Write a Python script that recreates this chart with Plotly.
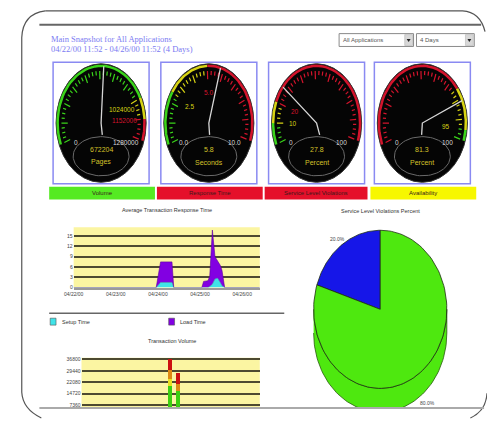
import numpy as np
import plotly.graph_objects as go

W, H = 487, 421
def PX(x): return x / W
def PY(y): return 1 - y / H

FONT = "Liberation Sans, Arial, sans-serif"

# ---------------- data ----------------
report_title = "Main Snapshot for All Applications"
report_period = "04/22/00 11:52 - 04/26/00 11:52 (4 Days)"
dropdown_labels = ["All Applications", "4 Days"]

gauge_names = ["Volume", "Response Time", "Service Level Violations", "Availability"]
gauge_values = [672204, 5.8, 27.8, 81.3]
gauge_value_labels = ["672204", "5.8", "27.8", "81.3"]
gauge_units = ["Pages", "Seconds", "Percent", "Percent"]
gauge_max = [1280000, 10.0, 100, 100]
gauge_min_labels = ["0", "0.0", "0", "0"]
gauge_max_labels = ["1280000", "10.0", "100", "100"]
gauge_zone_bounds = [[0, 1024000, 1152000, 1280000], [0, 2.5, 5.0, 10.0], [0, 10, 20, 100], [0, 75, 95, 100]]
gauge_zone_colors = [["g", "y", "r"], ["g", "y", "r"], ["g", "y", "r"], ["r", "y", "g"]]
gauge_mark_values = [[1024000, 1152000], [2.5, 5.0], [10, 20], [95]]
gauge_mark_labels = [["1024000", "1152000"], ["2.5", "5.0"], ["10", "20"], ["95"]]
gauge_mark_colors = [["y", "r"], ["y", "r"], ["y", "r"], ["y"]]
gauge_status = ["g", "r", "r", "y"]

resp_title = "Average Transaction Response Time"
resp_time = ["2000-04-22 00:00", "2000-04-23 23:00", "2000-04-24 01:30", "2000-04-24 08:00",
             "2000-04-24 09:00", "2000-04-25 01:00", "2000-04-25 02:00", "2000-04-25 04:30",
             "2000-04-25 05:30", "2000-04-25 07:00", "2000-04-25 08:30", "2000-04-25 10:00",
             "2000-04-25 11:30", "2000-04-25 12:30", "2000-04-25 14:00", "2000-04-26 10:00"]
setup_time = [0, 0, 1.5, 1.5, 0, 0, 0, 0, 0.3, 1.0, 2.5, 2.7, 1.5, 0.5, 0, 0]
load_time = [0, 0, 6.0, 6.0, 0, 0, 1.8, 2.0, 3.0, 15.8, 6.5, 5.0, 5.0, 4.5, 0, 0]
resp_yticks = [0, 3, 6, 9, 12, 15]
date_ticks = ["2000-04-22", "2000-04-23", "2000-04-24", "2000-04-25", "2000-04-26"]
date_tick_labels = ["04/22/00", "04/23/00", "04/24/00", "04/25/00", "04/26/00"]
date_range = ["2000-04-22 00:00", "2000-04-26 10:00"]
legend_names = ["Setup Time", "Load Time"]

vol_title = "Transaction Volume"
vol_time = ["2000-04-24 04:30", "2000-04-24 09:00"]
vol_green = [20000, 16800]
vol_yellow = [4000, 0]
vol_orange = [6400, 4000]
vol_red = [7100, 7500]
vol_yticks = [7360, 14720, 22080, 29440, 36800]
vol_ytick_labels = ["7360", "14720", "22080", "29440", "36800"]

slv_title = "Service Level Violations Percent"
slv_labels = ["Violations", "Compliant"]
slv_values = [20.0, 80.0]

# ---------------- styling ----------------
STATUS = {"g": "#55ea22", "r": "#e5102a", "y": "#f7f700"}
DIAL = {"g": "#3ad41a", "y": "#d8d414", "r": "#d3142c"}
TXT_Y = "#d4c22a"
box_x = [44, 154, 264, 372]
BOX_W, BOX_T, BOX_B = 98, 61, 184
START, SWEEP = 202.0, 220.0

shapes, annotations = [], []
layout_axes = {}

def add_axes(n, xdom, ydom, xr, yr):
    layout_axes[f"xaxis{n}"] = dict(domain=xdom, range=xr, visible=False, fixedrange=True, anchor=f"y{n}")
    layout_axes[f"yaxis{n}"] = dict(domain=ydom, range=yr, visible=False, fixedrange=True, anchor=f"x{n}")

def ppath(cmds):
    s = ""
    for c in cmds:
        op, pts = c[0], c[1:]
        s += op + " " + " ".join(f"{PX(pts[i]):.5f},{PY(pts[i+1]):.5f}" for i in range(0, len(pts), 2)) + " "
    return s.strip()

def text(x, y, t, size, color, xref="paper", yref="paper", xanchor="center", family=FONT):
    annotations.append(dict(x=x, y=y, xref=xref, yref=yref, text=t, showarrow=False,
                            xanchor=xanchor, yanchor="middle",
                            font=dict(size=size, color=color, family=family)))

fig = go.Figure()

# ---------------- frame ----------------
shapes.append(dict(type="path", xref="paper", yref="paper",
                   path=ppath([("M", 36, 9), ("L", 462, 9), ("Q", 480, 10, 485, 30)]),
                   line=dict(color="#555", width=1.2)))
shapes.append(dict(type="path", xref="paper", yref="paper",
                   path=ppath([("M", 36, 9), ("Q", 13, 12, 12, 36), ("L", 12, 395), ("Q", 13, 412, 32, 421)]),
                   line=dict(color="#555", width=1.2)))
shapes.append(dict(type="path", xref="paper", yref="paper",
                   path=ppath([("M", 487, 396), ("Q", 486, 414, 470, 421)]),
                   line=dict(color="#555", width=1.2)))
shapes.append(dict(type="line", xref="paper", yref="paper", x0=PX(30), x1=PX(481), y0=PY(23), y1=PY(23),
                   line=dict(color="#666", width=2)))
shapes.append(dict(type="line", xref="paper", yref="paper", x0=PX(30), x1=PX(484), y0=PY(411), y1=PY(411),
                   line=dict(color="#aaa", width=2)))
shapes.append(dict(type="line", xref="paper", yref="paper", x0=PX(40), x1=PX(280), y0=PY(315), y1=PY(315),
                   line=dict(color="#666", width=1.5)))

# ---------------- header ----------------
text(PX(40), PY(37), report_title, 8.5, "#7b7bf2", xanchor="left", family="Liberation Serif, Times New Roman, serif")
text(PX(40), PY(48), report_period, 8.5, "#7b7bf2", xanchor="left", family="Liberation Serif, Times New Roman, serif")

for (x0, x1), lab in zip([(336, 412), (415, 474)], dropdown_labels):
    shapes.append(dict(type="rect", xref="paper", yref="paper", x0=PX(x0), x1=PX(x1), y0=PY(45), y1=PY(32),
                       fillcolor="white", line=dict(color="#8a8a8a", width=1)))
    shapes.append(dict(type="rect", xref="paper", yref="paper", x0=PX(x1 - 9), x1=PX(x1 - 1), y0=PY(44), y1=PY(33),
                       fillcolor="#d8d8d8", line=dict(color="#aaa", width=0.5)))
    shapes.append(dict(type="path", xref="paper", yref="paper",
                       path=ppath([("M", x1 - 7, 37.5), ("L", x1 - 3, 37.5), ("L", x1 - 5, 40.5)]) + " Z",
                       fillcolor="#222", line=dict(width=0)))
    text(PX(x0 + 2), PY(38.5), lab, 6, "#555", xanchor="left")

# ---------------- gauges ----------------
def ang(v, vmax):
    return np.radians(START - SWEEP * v / vmax)

for i in range(4):
    n = i + 2
    xa, ya = f"x{n}", f"y{n}"
    x0 = box_x[i]
    add_axes(n, [PX(x0), PX(x0 + BOX_W)], [PY(BOX_B), PY(BOX_T)], [-49 / 46, 49 / 46], [-61.5 / 60, 61.5 / 60])
    shapes.append(dict(type="rect", xref="paper", yref="paper", x0=PX(x0), x1=PX(x0 + BOX_W),
                       y0=PY(BOX_B), y1=PY(BOX_T), line=dict(color="#8a8af2", width=1.5)))
    shapes.append(dict(type="circle", xref=xa, yref=ya, x0=-1, x1=1, y0=-1, y1=1, layer="below",
                       fillcolor="#050505", line=dict(color="#333", width=1)))
    vmax = gauge_max[i]
    bounds = gauge_zone_bounds[i]
    for z, col in enumerate(gauge_zone_colors[i]):
        t = np.linspace(ang(bounds[z], vmax), ang(bounds[z + 1], vmax), 40)
        fig.add_trace(go.Scatter(x=0.965 * np.cos(t), y=0.965 * np.sin(t), mode="lines", xaxis=xa, yaxis=ya,
                                 line=dict(color=DIAL[col], width=2.5), hoverinfo="skip", showlegend=False))
    tick_xy = {}
    for j in range(41):
        v = vmax * j / 40
        z = min(np.searchsorted(bounds, v, side="right") - 1, 2)
        col = gauge_zone_colors[i][z]
        a = ang(v, vmax)
        r0 = 0.74 if j % 4 == 0 else 0.81
        xs, ys = tick_xy.setdefault(col, ([], []))
        xs += [r0 * np.cos(a), 0.88 * np.cos(a), None]
        ys += [r0 * np.sin(a), 0.88 * np.sin(a), None]
    for col, (xs, ys) in tick_xy.items():
        fig.add_trace(go.Scatter(x=xs, y=ys, mode="lines", xaxis=xa, yaxis=ya,
                                 line=dict(color=DIAL[col], width=1.2), hoverinfo="skip", showlegend=False))
    t = np.linspace(0, 2 * np.pi, 80)
    fig.add_trace(go.Scatter(x=0.62 * np.cos(t), y=-0.56 + 0.33 * np.sin(t), mode="lines", xaxis=xa, yaxis=ya,
                             line=dict(color="#6a6a6a", width=1), hoverinfo="skip", showlegend=False))
    a = ang(gauge_values[i], vmax)
    fig.add_trace(go.Scatter(x=[0.05 * np.cos(a + np.pi) + 0.03, 0, 0.96 * np.cos(a)],
                             y=[-0.2, 0, 0.96 * np.sin(a)], mode="lines", xaxis=xa, yaxis=ya,
                             line=dict(color="#d6d6d6", width=1.3), hoverinfo="skip", showlegend=False))
    text(-0.56, -0.33, gauge_min_labels[i], 6.5, "#d8d8d8", xa, ya)
    text(0.56, -0.33, gauge_max_labels[i], 6.5, "#d8d8d8", xa, ya)
    for mv, ml, mc in zip(gauge_mark_values[i], gauge_mark_labels[i], gauge_mark_colors[i]):
        a = ang(mv, vmax)
        text(0.52 * np.cos(a), 0.52 * np.sin(a), ml, 6.5, DIAL[mc], xa, ya)
    text(0, -0.45, gauge_value_labels[i], 7, TXT_Y, xa, ya)
    text(0, -0.66, gauge_units[i], 7, TXT_Y, xa, ya)

for (x0, x1), name, st in zip([(40, 148), (150, 258), (260, 365), (368, 476)], gauge_names, gauge_status):
    shapes.append(dict(type="rect", xref="paper", yref="paper", x0=PX(x0), x1=PX(x1), y0=PY(200), y1=PY(187),
                       fillcolor=STATUS[st], line=dict(width=0)))
    text(PX((x0 + x1) / 2), PY(193.5), name, 6, "#3a1a1a")

# ---------------- response time area chart ----------------
layout_axes["xaxis6"] = dict(domain=[PX(65), PX(255)], range=date_range, type="date", anchor="y6",
                             tickvals=date_ticks, ticktext=date_tick_labels, tickfont=dict(size=5, color="#444"),
                             showgrid=False, showline=True, linecolor="#9a9a9a", linewidth=2, ticks="", fixedrange=True)
layout_axes["yaxis6"] = dict(domain=[PY(289), PY(228)], range=[0, 17.6], anchor="x6", tickvals=resp_yticks,
                             tickfont=dict(size=5, color="#444"), gridcolor="#4d4a30", gridwidth=1.5,
                             zeroline=False, ticks="", fixedrange=True)
shapes.append(dict(type="rect", xref="x6 domain", yref="y6 domain", x0=0, x1=1, y0=0, y1=1, layer="below",
                   fillcolor="#fbf5a2", line=dict(width=0)))
fig.add_trace(go.Scatter(x=resp_time, y=setup_time, name=legend_names[0], stackgroup="rt", mode="lines",
                         xaxis="x6", yaxis="y6", fillcolor="#3fe3e8", line=dict(color="#2aa8b0", width=0.6),
                         showlegend=False))
fig.add_trace(go.Scatter(x=resp_time, y=load_time, name=legend_names[1], stackgroup="rt", mode="lines",
                         xaxis="x6", yaxis="y6", fillcolor="#8200e2", line=dict(color="#5a00a0", width=0.6),
                         showlegend=False))
text(PX(160), PY(211), resp_title, 5.5, "#333")

for (x0, lx), name, col in zip([(41, 51), (162, 172)], legend_names, ["#3fe3e8", "#8200e2"]):
    shapes.append(dict(type="rect", xref="paper", yref="paper", x0=PX(x0), x1=PX(x0 + 6), y0=PY(327), y1=PY(320),
                       fillcolor=col, line=dict(color="#555", width=0.6)))
    text(PX(lx), PY(323.5), name, 5.5, "#333", xanchor="left")

# ---------------- transaction volume bar chart ----------------
layout_axes["xaxis7"] = dict(domain=[PX(73), PX(255)], range=date_range, type="date", anchor="y7",
                             showticklabels=False, showgrid=False, ticks="", fixedrange=True)
layout_axes["yaxis7"] = dict(domain=[PY(410), PY(360)], range=[5900, 37900], anchor="x7", tickvals=vol_yticks,
                             ticktext=vol_ytick_labels,
                             tickfont=dict(size=5, color="#444"), gridcolor="#4d4a30", gridwidth=1.5,
                             zeroline=False, ticks="", fixedrange=True)
shapes.append(dict(type="rect", xref="x7 domain", yref="y7 domain", x0=0, x1=1, y0=0, y1=1, layer="below",
                   fillcolor="#fbf5a2", line=dict(width=0)))
bar_w = 0.09 * 86400000
for vals, col in zip([vol_green, vol_yellow, vol_orange, vol_red], ["#3ccf10", "#e8e020", "#dd8a14", "#cc1010"]):
    fig.add_trace(go.Bar(x=vol_time, y=vals, width=bar_w, xaxis="x7", yaxis="y7", marker=dict(color=col, line=dict(width=0)),
                         showlegend=False))
text(PX(165), PY(343), vol_title, 5.5, "#333")

# ---------------- service level violations pie (3D look) ----------------
RX, RY, DEPTH = 68, 80, 24
add_axes(8, [PX(298), PX(458)], [PY(410), PY(229)], [-80, 80], [-99, 82])
pie_colors = ["#1616e8", "#4ee80f"]
tot = sum(slv_values)
angles = [90.0]
for v in slv_values:
    angles.append(angles[-1] + 360.0 * v / tot)
t = np.radians(np.linspace(180, 360, 90))
side_x = np.concatenate([RX * np.cos(t), RX * np.cos(t[::-1])])
side_y = np.concatenate([RY * np.sin(t) - DEPTH, RY * np.sin(t[::-1])])
fig.add_trace(go.Scatter(x=side_x, y=side_y, fill="toself", mode="lines", xaxis="x8", yaxis="y8",
                         fillcolor=pie_colors[1], line=dict(color="#2a5a10", width=0.8), hoverinfo="skip",
                         showlegend=False))
for k in range(len(slv_values)):
    t = np.radians(np.linspace(angles[k], angles[k + 1], 120))
    xs = np.concatenate([[0], RX * np.cos(t), [0]])
    ys = np.concatenate([[0], RY * np.sin(t), [0]])
    fig.add_trace(go.Scatter(x=xs, y=ys, fill="toself", mode="lines", xaxis="x8", yaxis="y8", name=slv_labels[k],
                             fillcolor=pie_colors[k], line=dict(color="#1d2d12", width=0.8), showlegend=False))
    mid = np.radians((angles[k] + angles[k + 1]) / 2)
    lx, ly = 1.1 * RX * np.cos(mid), 1.1 * RY * np.sin(mid)
    if np.sin(mid) < 0:
        lx, ly = 1.2 * RX * np.cos(mid), 1.1 * RY * np.sin(mid) - DEPTH
    text(lx, ly, f"{slv_values[k]:.1f}%", 5, "#444", "x8", "y8")
text(PX(378), PY(212), slv_title, 5.5, "#333")

fig.update_layout(
    width=W, height=H, margin=dict(l=0, r=0, t=0, b=0), autosize=False,
    paper_bgcolor="white", plot_bgcolor="rgba(0,0,0,0)", showlegend=False,
    barmode="stack", bargap=0,
    xaxis=dict(visible=False), yaxis=dict(visible=False),
    shapes=shapes, annotations=annotations, font=dict(family=FONT),
    **layout_axes,
)
fig.write_html("out.html", config={"displayModeBar": False},
               post_script="document.body.style.margin='0';document.body.style.overflow='hidden';"
                           "document.documentElement.style.overflow='hidden';")
